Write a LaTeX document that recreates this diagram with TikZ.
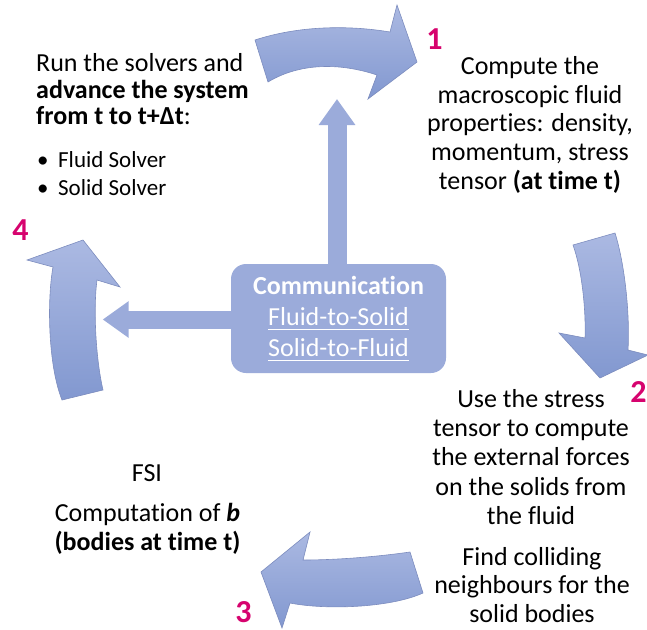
\documentclass[tikz,border=0pt]{standalone}
\usepackage{fontspec}
\setmainfont{Carlito}[Ligatures={NoCommon,NoContextual}]
\usetikzlibrary{arrows.meta}
\definecolor{cyc1}{HTML}{ABB9E2}
\definecolor{cyc2}{HTML}{8298D0}
\definecolor{cycline}{HTML}{7C8CBE}
\definecolor{commblue}{HTML}{9BABDA}
\definecolor{nummag}{HTML}{D6036E}
\newcommand\mytopstrut{\rule{0pt}{21pt}}
\newcommand\myul[1]{\setbox0\hbox{#1}\rlap{\copy0}\rule[-4.5pt]{\wd0}{1.3pt}}
\begin{document}
\begin{tikzpicture}[x=1pt,y=-1pt,
  cyclearrow/.style={top color=cyc1, bottom color=cyc2, draw=cycline, line width=0.6pt, line join=miter},
  commarrow/.style={draw=commblue, line width=19pt, -{Triangle[length=26pt 0 0,width=35pt 0 0]}},
  commbox/.style={fill=commblue, rounded corners=15pt, minimum width=215pt, minimum height=109pt, text=white, align=center, inner sep=0pt, font=\fontsize{26}{31}\selectfont},
  body/.style={inner sep=0pt, align=center, anchor=north},
  num/.style={inner sep=0pt, font=\fontsize{32}{32}\selectfont\bfseries, text=nummag, anchor=base}
]
\useasboundingbox (0,0) rectangle (647,629);

% cycle arrows
\path[cyclearrow] (255,40) .. controls (300,25.3) and (350,25.3) .. (390,32) -- (397,5) -- (417,62) -- (368,99) -- (377,75) .. controls (340,62.7) and (300,62.7) .. (268,82) -- cycle;
\path[cyclearrow] (573,245) -- (615,233) .. controls (625,265) and (630,315) .. (628,350) -- (648,355) -- (600,378) -- (559,333) -- (585,338) .. controls (586,310) and (582,270) .. (573,245) -- cycle;
\path[cyclearrow] (410,552) .. controls (375,557) and (335,560) .. (303,560) -- (310,532) -- (261,572) -- (282,628) -- (290,603) .. controls (325,610) and (390,608) .. (423,593) -- cycle;
\path[cyclearrow] (62,400) .. controls (48,365) and (47,300) .. (53,267) -- (27,260) -- (83,240) -- (120,287) -- (97,280) .. controls (93,310) and (96,360) .. (103,390) -- cycle;

% communication box and arrows
\node[commbox] (comm) at (338.5,318.5) {\textbf{Communication}\\\myul{Fluid-to-Solid}\\\myul{Solid-to-Fluid}};
\coordinate (uptip) at (337,99);
\coordinate (lefttip) at (102.7,319.5);
\draw[commarrow] (comm.north -| uptip) ++(0,2) -- (uptip);
\draw[commarrow, line width=18pt] (comm.west |- lefttip) ++(2,0) -- (lefttip);

% texts
\node[body, font=\fontsize{26}{28.7}\selectfont] (step1) at (530,53.3) {\mytopstrut Compute the\\macroscopic fluid\\properties: density,\\momentum, stress\\tensor \textbf{(at time t)}};
\node[body, font=\fontsize{26}{29.3}\selectfont] (step2) at (531,386) {\mytopstrut Use the stress\\tensor to compute\\the external forces\\on the solids from\\the fluid};
\node[body, font=\fontsize{26}{28.5}\selectfont] (step3) at (532,544) {\mytopstrut Find colliding\\neighbours for the\\solid bodies};
\node[inner sep=0pt, anchor=base, font=\fontsize{26}{28}\selectfont] (fsi) at (147,481.7) {FSI};
\node[body, font=\fontsize{26}{28.3}\selectfont] (fsicomp) at (147.5,500.7) {\mytopstrut Computation of \textbf{\textit{b}}\\\textbf{(bodies at time t)}};
\node[inner sep=0pt, anchor=north west, align=left, font=\fontsize{26}{26.3}\selectfont] (step4) at (36,50.7) {\mytopstrut Run the solvers and\\\textbf{advance the system}\\\textbf{from t to t+Δt}:};
\node[inner sep=0pt, anchor=north west, align=left, font=\fontsize{23}{28.4}\selectfont] (bullets) at (37,146.3) {\mytopstrut\makebox[21pt][l]{•}Fluid Solver\\\makebox[21pt][l]{•}Solid Solver};

% numbers
\node[num] (n1) at (434.5,49) {1};
\node[num] (n2) at (638.5,402) {2};
\node[num] (n3) at (243.5,622) {3};
\node[num] (n4) at (20.5,240) {4};
\end{tikzpicture}
\end{document}
